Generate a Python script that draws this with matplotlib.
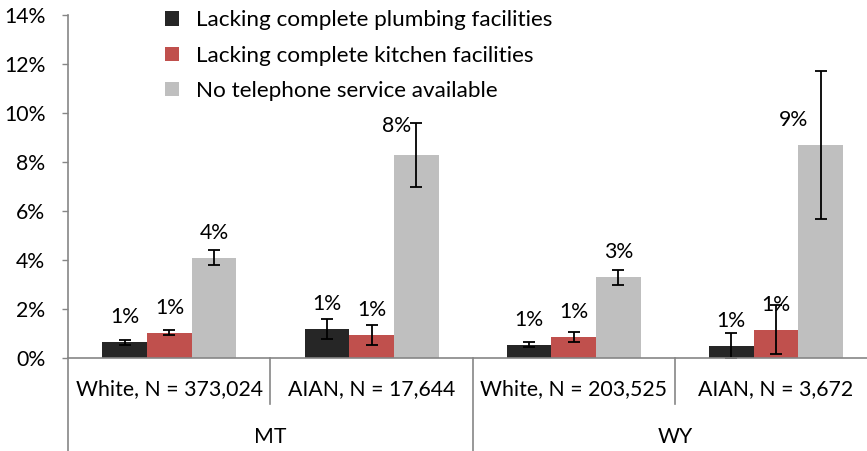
import matplotlib
matplotlib.use("Agg")
import matplotlib.pyplot as plt
import numpy as np
from matplotlib.transforms import blended_transform_factory

# ---------------- data ----------------
groups = ["White, N = 373,024", "AIAN, N = 17,644", "White, N = 203,525", "AIAN, N = 3,672"]
states = ["MT", "WY"]
series_names = ["Lacking complete plumbing facilities",
                "Lacking complete kitchen facilities",
                "No telephone service available"]
plumbing = [0.65, 1.2, 0.55, 0.52]
plumbing_err = [0.1, 0.4, 0.1, 0.5]
kitchen = [1.05, 0.95, 0.87, 1.17]
kitchen_err = [0.1, 0.4, 0.22, 1.0]
telephone = [4.1, 8.3, 3.3, 8.7]
telephone_err = [0.3, 1.3, 0.3, 3.0]
y_ticks = [0, 2, 4, 6, 8, 10, 12, 14]

# ---------------- style ----------------
plt.rcParams['font.family'] = ['Lato', 'DejaVu Sans']
FS = 15.3
FS_LEG = 16.2
colors = ["#262626", "#C0504D", "#BFBFBF"]
axis_gray = "#868686"

W, H = 867, 451
fig = plt.figure(figsize=(W / 100, H / 100), dpi=100)
left_px, right_px, top_px, bottom_px = 68.3, 877, 15, 358.3
ax = fig.add_axes([left_px / W, (H - bottom_px) / H,
                   (right_px - left_px) / W, (bottom_px - top_px) / H])

x = np.arange(len(groups))
bw = 0.221
all_vals = [plumbing, kitchen, telephone]
all_errs = [plumbing_err, kitchen_err, telephone_err]
for i, (vals, errs) in enumerate(zip(all_vals, all_errs)):
    ax.bar(x + (i - 1) * bw, vals, bw, color=colors[i], label=series_names[i],
           yerr=errs, error_kw=dict(ecolor="black", elinewidth=1.3, capsize=4.3, capthick=1.3),
           zorder=2)

ax.set_xlim(-0.5, 3.5)
ax.set_ylim(0, 14)
ax.set_yticks(y_ticks)
ax.set_yticklabels([f"{t}%" for t in y_ticks], fontsize=FS)
ax.tick_params(axis='y', direction='out', length=4.5, width=1, color=axis_gray, pad=12)
ax.set_xticks(x)
ax.set_xticklabels(groups, fontsize=FS)
ax.tick_params(axis='x', length=0, pad=15)
for s in ["top", "right"]:
    ax.spines[s].set_visible(False)
for s in ["left", "bottom"]:
    ax.spines[s].set_color(axis_gray)
    ax.spines[s].set_linewidth(1.2)

# multi-level category axis lines
trans = blended_transform_factory(ax.transData, ax.transAxes)
ax_h_px = bottom_px - top_px
ax.plot([-0.5, -0.5], [0, -(H - bottom_px) / ax_h_px], transform=trans, color=axis_gray, lw=1.2, clip_on=False)
for xs in [0.5, 2.5]:
    ax.plot([xs, xs], [0, -46 / ax_h_px], transform=trans, color=axis_gray, lw=1.2, clip_on=False)
ax.plot([1.5, 1.5], [0, -(H - bottom_px) / ax_h_px], transform=trans, color=axis_gray, lw=1.2, clip_on=False)
for k, st in enumerate(states):
    ax.text(0.5 + 2 * k, -(437 - bottom_px) / ax_h_px, st, transform=trans,
            ha='center', va='center', fontsize=FS)

# data labels
offsets = {(1, 2): (-20, 29), (3, 2): (-27, 25)}
for i, vals in enumerate(all_vals):
    for j, v in enumerate(vals):
        dx, dy = offsets.get((j, i), (0, 25))
        ax.annotate(f"{v / 100:.0%}", xy=(x[j] + (i - 1) * bw, v), xytext=(dx, dy),
                    textcoords='offset pixels', ha='center', va='center', fontsize=FS, zorder=3)

# legend
ax.legend(loc='upper left', bbox_to_anchor=(164.7 / W, 1 - 10.5 / H),
          bbox_transform=fig.transFigure, frameon=False, fontsize=FS_LEG,
          handlelength=0.62, handleheight=0.62, handletextpad=0.75,
          labelspacing=0.68, borderpad=0, borderaxespad=0)

fig.savefig("out.png", dpi=100)
